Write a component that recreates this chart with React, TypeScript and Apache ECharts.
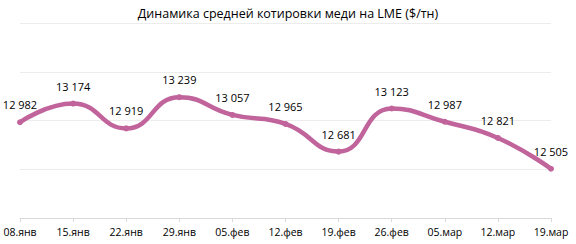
import React, { useEffect, useRef } from "react";
import * as echarts from "echarts";

const categories = ["08.янв", "15.янв", "22.янв", "29.янв", "05.фев", "12.фев", "19.фев", "26.фев", "05.мар", "12.мар", "19.мар"];
const prices = [12982, 13174, 12919, 13239, 13057, 12965, 12681, 13123, 12987, 12821, 12505];
const titleText = "Динамика средней котировки меди на LME ($/тн)";

const fmt = (v: number) => {
  const s = String(v);
  return s.slice(0, s.length - 3) + " " + s.slice(-3);
};

export default function App() {
  const ref = useRef<HTMLDivElement>(null);
  useEffect(() => {
    document.body.style.margin = "0";
    if (!ref.current) return;
    const chart = echarts.init(ref.current, null, { renderer: "svg" });
    chart.setOption({
      animation: false,
      backgroundColor: "#ffffff",
      textStyle: { fontFamily: "Open Sans" },
      title: {
        text: titleText,
        left: "center",
        top: 2,
        textStyle: { fontSize: 12.5, fontWeight: "normal", color: "#000000", fontFamily: "Open Sans" },
      },
      grid: { left: 20, right: 25, top: 23, bottom: 26, containLabel: false },
      xAxis: {
        type: "category",
        data: categories,
        boundaryGap: false,
        axisLine: { lineStyle: { color: "#d9d9d9", width: 1 } },
        axisTick: { show: true, length: 4, lineStyle: { color: "#d9d9d9" } },
        axisLabel: { color: "#000000", fontSize: 10.5, margin: 8, fontFamily: "Open Sans" },
      },
      yAxis: {
        type: "value",
        min: 12000,
        max: 14000,
        interval: 500,
        axisLine: { show: false },
        axisTick: { show: false },
        axisLabel: { show: false },
        splitLine: { lineStyle: { color: "#ececec", width: 1 } },
      },
      series: [
        {
          type: "line",
          data: prices,
          smooth: 0.5,
          symbol: "circle",
          symbolSize: 6,
          lineStyle: { color: "#c0649b", width: 4.5 },
          itemStyle: { color: "#c0649b" },
          label: {
            show: true,
            position: "top",
            distance: 9,
            color: "#000000",
            fontSize: 11,
            fontFamily: "Open Sans",
            formatter: (p: any) => fmt(p.value),
          },
        },
      ],
    });
    return () => chart.dispose();
  }, []);
  return <div ref={ref} style={{ width: 576, height: 244 }} />;
}
